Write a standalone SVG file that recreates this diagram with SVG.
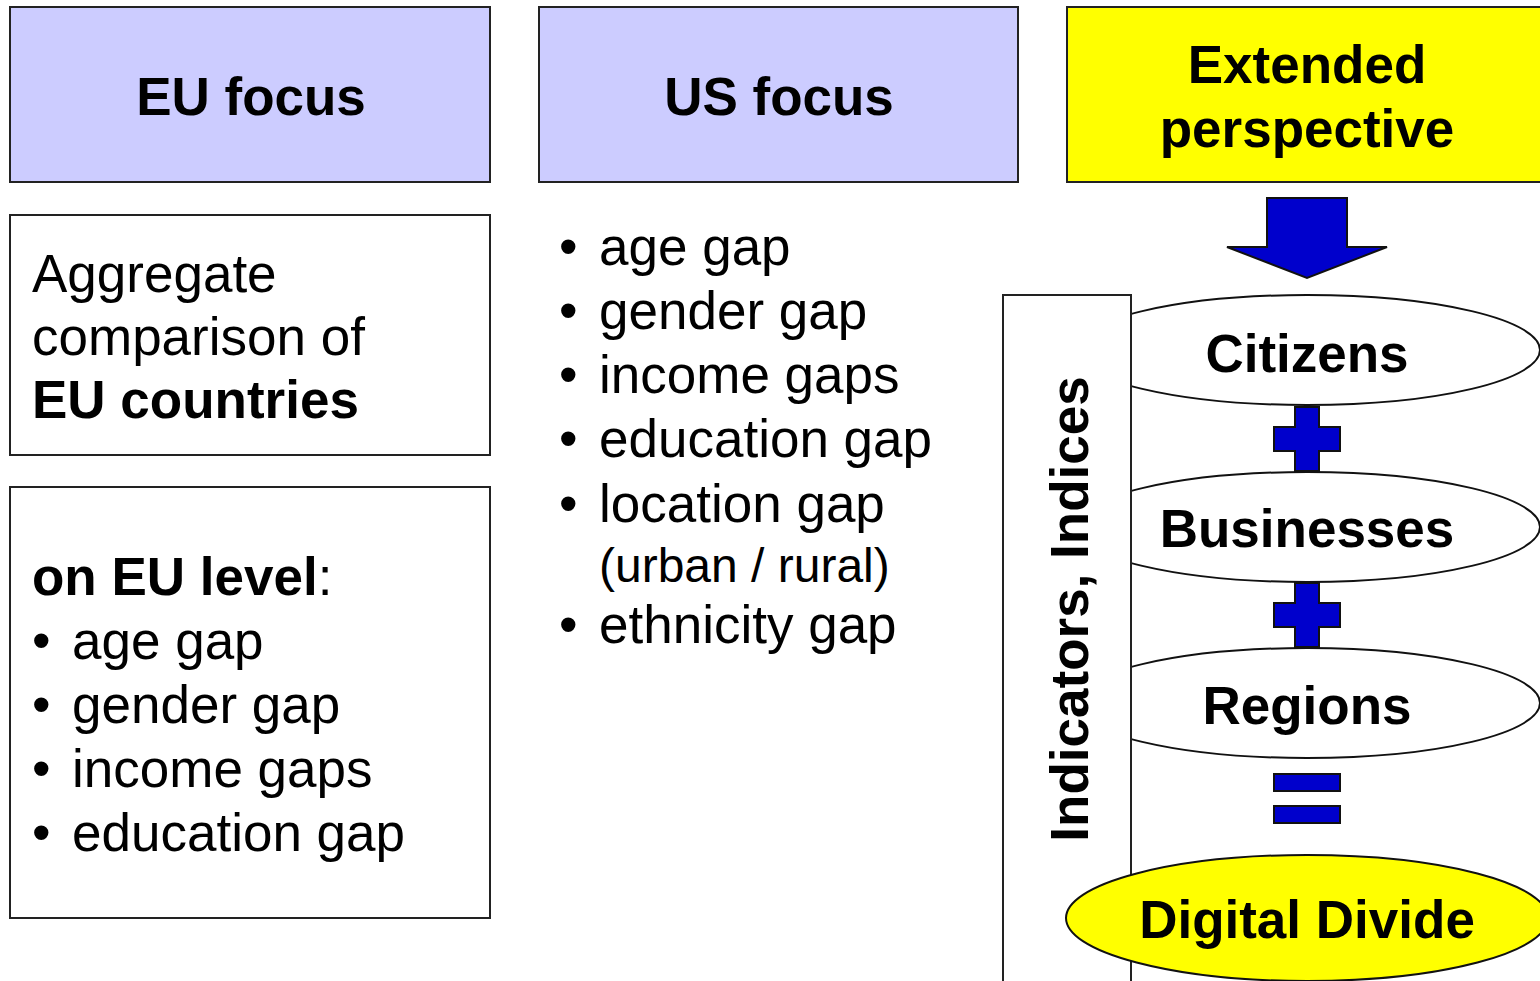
<svg xmlns="http://www.w3.org/2000/svg" width="1540" height="981" viewBox="0 0 1540 981">
<style>
.hdr{fill:#CCCCFF;stroke:#222;stroke-width:2}
.yel{fill:#FFFF00;stroke:#222;stroke-width:2}
.box{fill:#FFFFFF;stroke:#222;stroke-width:2}
.ell{fill:#FFFFFF;stroke:#111;stroke-width:2}
.blue{fill:#0000CC;stroke:#111;stroke-width:2}
text{font-family:"Liberation Sans",Arial,sans-serif;font-size:53px;fill:#000}
.b{font-weight:bold}
.c{text-anchor:middle}
.sm{font-size:48px}
</style>
<rect width="1540" height="981" fill="#FFFFFF"/>
<g id="eu-focus"><rect class="hdr" x="10" y="7" width="480" height="175"/><text class="b c" x="251" y="115">EU focus</text></g>
<g id="us-focus"><rect class="hdr" x="539" y="7" width="479" height="175"/><text class="b c" x="779" y="115">US focus</text></g>
<g id="extended"><rect class="yel" x="1067" y="7" width="480" height="175"/><text class="b c" x="1307" y="83">Extended</text><text class="b c" x="1307" y="147">perspective</text></g>
<g id="aggregate"><rect class="box" x="10" y="215" width="480" height="240"/>
<text x="32" y="292">Aggregate</text><text x="32" y="355">comparison of</text><text class="b" x="32" y="418">EU countries</text></g>
<g id="eu-level"><rect class="box" x="10" y="487" width="480" height="431"/>
<text class="b" x="32" y="595">on EU level<tspan font-weight="normal">:</tspan></text>
<text x="32" y="659">•</text><text x="72" y="659">age gap</text>
<text x="32" y="723">•</text><text x="72" y="723">gender gap</text>
<text x="32" y="787">•</text><text x="72" y="787">income gaps</text>
<text x="32" y="851">•</text><text x="72" y="851">education gap</text></g>
<g id="us-list">
<text x="559" y="265">•</text><text x="599" y="265">age gap</text>
<text x="559" y="329">•</text><text x="599" y="329">gender gap</text>
<text x="559" y="393">•</text><text x="599" y="393">income gaps</text>
<text x="559" y="457">•</text><text x="599" y="457">education gap</text>
<text x="559" y="522">•</text><text x="599" y="522">location gap</text>
<text class="sm" x="599" y="582">(urban / rural)</text>
<text x="559" y="643">•</text><text x="599" y="643">ethnicity gap</text></g>
<g id="connectors">
<polygon id="down-arrow" class="blue" points="1267,198 1347,198 1347,247 1387,247 1307,278 1227,247 1267,247"/>
<polygon id="plus1" class="blue" points="1295,407 1319,407 1319,427 1340,427 1340,451 1319,451 1319,471 1295,471 1295,451 1274,451 1274,427 1295,427"/>
<polygon id="plus2" class="blue" points="1295,583 1319,583 1319,603 1340,603 1340,627 1319,627 1319,647 1295,647 1295,627 1274,627 1274,603 1295,603"/>
<rect id="eq1" class="blue" x="1274" y="774" width="66" height="17"/>
<rect id="eq2" class="blue" x="1274" y="806" width="66" height="17"/>
</g>
<g id="citizens"><ellipse class="ell" cx="1307" cy="350" rx="233" ry="55"/><text class="b c" x="1307" y="372">Citizens</text></g>
<g id="businesses"><ellipse class="ell" cx="1307" cy="527" rx="233" ry="55"/><text class="b c" x="1307" y="547">Businesses</text></g>
<g id="regions"><ellipse class="ell" cx="1307" cy="703" rx="233" ry="55"/><text class="b c" x="1307" y="724">Regions</text></g>
<g id="indicators"><rect class="box" x="1003" y="295" width="128" height="700"/><text class="b c" transform="translate(1088,609) rotate(-90)" x="0" y="0">Indicators, Indices</text></g>
<g id="digital-divide"><ellipse cx="1307" cy="918" rx="241" ry="63" fill="#FFFF00" stroke="#111" stroke-width="2"/><text class="b c" x="1307" y="938">Digital Divide</text></g>
</svg>
